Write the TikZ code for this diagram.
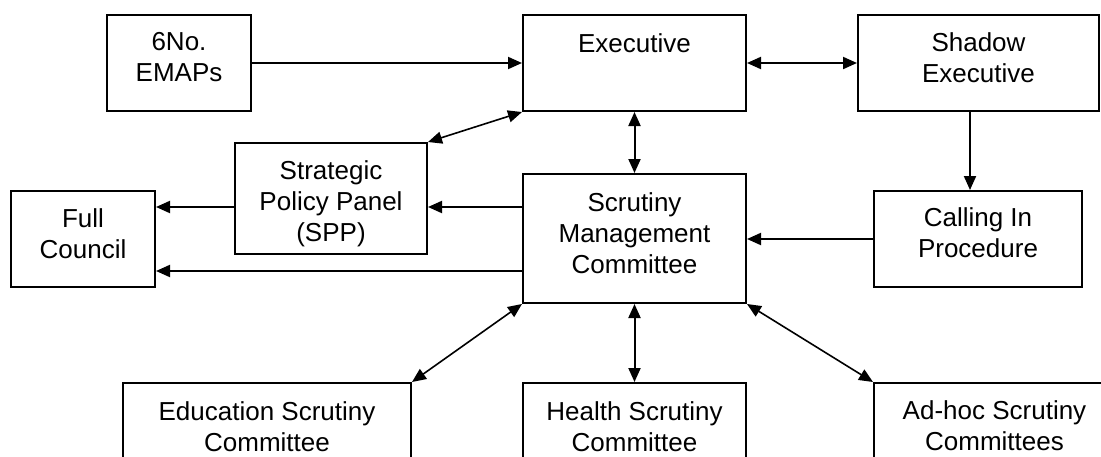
\documentclass[tikz,border=0pt]{standalone}
\usepackage{fontspec}
\setmainfont{Liberation Sans}
\usetikzlibrary{arrows.meta,calc}
\begin{document}
\begin{tikzpicture}[x=1pt,y=-1pt,
  box/.style={draw=black, line width=2pt, rectangle, inner sep=0pt},
  txt/.style={align=center, inner sep=0pt, anchor=north, font=\fontsize{26}{31}\selectfont},
  conn/.style={line width=2pt, -{Triangle[length=14pt,width=12pt]}},
  biconn/.style={line width=2pt, {Triangle[length=14pt,width=12pt]}-{Triangle[length=14pt,width=12pt]}},
  diag/.style={line width=1.6pt, {Triangle[length=14pt,width=12pt]}-{Triangle[length=14pt,width=12pt]}}]
\useasboundingbox (0,0) rectangle (1101,456);
\clip (0,0) rectangle (1101,456);
\fill[white] (0,0) rectangle (1101,456);
% boxes
\node[box, minimum width=144pt, minimum height=96pt] (emap) at (179,63) {};
\node[box, minimum width=223pt, minimum height=96pt] (exec) at (634.5,63) {};
\node[box, minimum width=241pt, minimum height=96pt] (shadow) at (978.5,63) {};
\node[box, minimum width=192pt, minimum height=111pt] (spp) at (331,198.5) {};
\node[box, minimum width=144pt, minimum height=96pt] (full) at (83,239) {};
\node[box, minimum width=223pt, minimum height=129pt] (smc) at (634.5,238.5) {};
\node[box, minimum width=208pt, minimum height=96pt] (calling) at (978,239) {};
\node[box, minimum width=288pt, minimum height=96pt] (edu) at (267,431) {};
\node[box, minimum width=223pt, minimum height=96pt] (health) at (634.5,431) {};
\node[box, minimum width=241pt, minimum height=96pt] (adhoc) at (994.5,431) {};
% texts
\node[txt] (temap) at ([yshift=-18pt]emap.north) {6No.\\EMAPs};
\node[txt] (texec) at ([yshift=-19pt]exec.north) {Executive};
\node[txt] (tshadow) at ([yshift=-18pt]shadow.north) {Shadow\\Executive};
\node[txt] (tspp) at ([yshift=-18pt]spp.north) {Strategic\\Policy Panel\\(SPP)};
\node[txt] (tfull) at ([yshift=-18pt]full.north) {Full\\Council};
\node[txt] (tsmc) at ([yshift=-19pt]smc.north) {Scrutiny\\Management\\Committee};
\node[txt] (tcalling) at ([yshift=-17pt]calling.north) {Calling In\\Procedure};
\node[txt] (tedu) at ([yshift=-19pt]edu.north) {Education Scrutiny\\Committee};
\node[txt] (thealth) at ([yshift=-19pt]health.north) {Health Scrutiny\\Committee};
\node[txt] (tadhoc) at ([yshift=-18pt]adhoc.north) {Ad-hoc Scrutiny\\Committees};
% helper coordinates
\coordinate (r1) at (0,207);
\coordinate (r2) at (0,271);
\coordinate (c1) at (970,0);
% connectors
\draw[conn] (emap.east) -- (emap.east -| exec.west);
\draw[biconn] (exec.east) -- (exec.east -| shadow.west);
\draw[biconn] (exec.south) -- (smc.north);
\draw[conn] (c1 |- shadow.south) -- (c1 |- calling.north);
\draw[conn] (calling.west) -- (calling.west -| smc.east);
\draw[conn] (r1 -| smc.west) -- (r1 -| spp.east);
\draw[conn] (r1 -| spp.west) -- (r1 -| full.east);
\draw[conn] (r2 -| smc.west) -- (r2 -| full.east);
\draw[diag] (spp.north east) -- (exec.south west);
\draw[diag] (edu.north east) -- (smc.south west);
\draw[biconn] (smc.south) -- (health.north);
\draw[diag] (smc.south east) -- (adhoc.north west);
\end{tikzpicture}
\end{document}
